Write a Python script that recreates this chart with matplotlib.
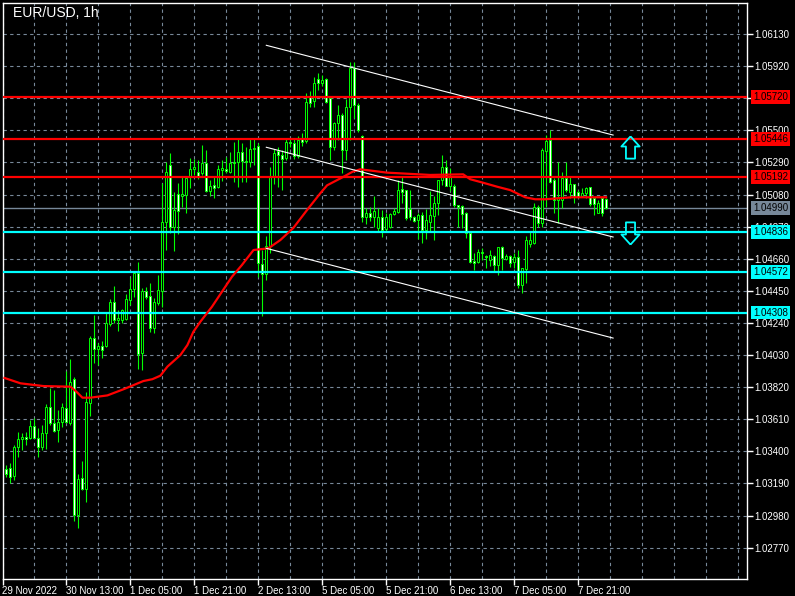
import numpy as np
import matplotlib
matplotlib.use('Agg')
import matplotlib.pyplot as plt
from matplotlib.path import Path

plt.rcParams['font.family'] = ['Liberation Sans', 'DejaVu Sans']

# hourly EUR/USD candles, index 0 = 29 Nov 22:00
opens = [1.03283, 1.03289, 1.03241, 1.03431, 1.03479, 1.03492, 1.03485, 1.03566, 1.03485, 1.03426,
         1.03518, 1.03688, 1.03583, 1.03540, 1.03594, 1.03682, 1.03583, 1.03871, 1.02984, 1.03224,
         1.03152, 1.03714, 1.04139, 1.04067, 1.04091, 1.04089, 1.04233, 1.04379, 1.04259, 1.04259,
         1.04264, 1.04390, 1.04460, 1.04564, 1.04046, 1.04451, 1.04416, 1.04205, 1.04368, 1.04451,
         1.04898, 1.05273, 1.04870, 1.05083, 1.05070, 1.05077, 1.05201, 1.05245, 1.05229, 1.05218,
         1.05284, 1.05105, 1.05142, 1.05127, 1.05240, 1.05245, 1.05229, 1.05295, 1.05295, 1.05356,
         1.05301, 1.05295, 1.05375, 1.05397, 1.04625, 1.04560, 1.04740, 1.05201, 1.05367, 1.05339,
         1.05317, 1.05426, 1.05415, 1.05330, 1.05443, 1.05433, 1.05716, 1.05690, 1.05834, 1.05808,
         1.05834, 1.05709, 1.05393, 1.05546, 1.05600, 1.05372, 1.05655, 1.05906, 1.05666, 1.05460,
         1.04935, 1.04961, 1.04935, 1.04860, 1.04931, 1.04853, 1.04866, 1.04953, 1.04968, 1.05114,
         1.05110, 1.04984, 1.04931, 1.04914, 1.04946, 1.04848, 1.04903, 1.04940, 1.05023, 1.05175,
         1.05262, 1.05136, 1.05136, 1.05012, 1.05005, 1.04957, 1.04827, 1.04648, 1.04641, 1.04707,
         1.04680, 1.04652, 1.04678, 1.04620, 1.04735, 1.04660, 1.04678, 1.04641, 1.04674, 1.04488,
         1.04591, 1.04756, 1.04761, 1.05001, 1.04896, 1.05367, 1.05437, 1.05175, 1.05044, 1.05044,
         1.05186, 1.05099, 1.05149, 1.05099, 1.05070, 1.05092, 1.05127, 1.05055, 1.04961, 1.05055,
         1.05048]
highs = [1.03311, 1.03322, 1.03442, 1.03529, 1.03522, 1.03529, 1.03605, 1.03616, 1.03551, 1.03572,
         1.03710, 1.03812, 1.03801, 1.03671, 1.03714, 1.03928, 1.04004, 1.03889, 1.03252, 1.03337,
         1.03790, 1.04155, 1.04292, 1.04107, 1.04124, 1.04303, 1.04394, 1.04482, 1.04325, 1.04329,
         1.04429, 1.04532, 1.04570, 1.04641, 1.04466, 1.04473, 1.04499, 1.04401, 1.04553, 1.05153,
         1.05295, 1.05349, 1.05099, 1.05153, 1.05197, 1.05197, 1.05317, 1.05310, 1.05306, 1.05404,
         1.05371, 1.05175, 1.05197, 1.05273, 1.05306, 1.05327, 1.05360, 1.05425, 1.05448, 1.05414,
         1.05393, 1.05447, 1.05447, 1.05414, 1.04720, 1.04810, 1.05262, 1.05380, 1.05393, 1.05370,
         1.05441, 1.05450, 1.05440, 1.05460, 1.05480, 1.05742, 1.05760, 1.05847, 1.05873, 1.05860,
         1.05840, 1.05709, 1.05555, 1.05666, 1.05610, 1.05703, 1.05949, 1.05949, 1.05680, 1.05470,
         1.04990, 1.05000, 1.05070, 1.04990, 1.04979, 1.04962, 1.04957, 1.04990, 1.05175, 1.05202,
         1.05110, 1.05110, 1.04940, 1.04962, 1.04968, 1.04984, 1.05106, 1.05071, 1.05175, 1.05339,
         1.05306, 1.05252, 1.05150, 1.05012, 1.05012, 1.04968, 1.04827, 1.04696, 1.04722, 1.04729,
         1.04685, 1.04718, 1.04685, 1.04739, 1.04743, 1.04690, 1.04687, 1.04700, 1.04717, 1.04600,
         1.04809, 1.04837, 1.05023, 1.05012, 1.05382, 1.05469, 1.05502, 1.05186, 1.05295, 1.05229,
         1.05295, 1.05197, 1.05149, 1.05110, 1.05121, 1.05131, 1.05131, 1.05055, 1.05044, 1.05055,
         1.05060]
lows = [1.03235, 1.03191, 1.03213, 1.03365, 1.03409, 1.03442, 1.03480, 1.03485, 1.03361, 1.03409,
        1.03413, 1.03572, 1.03529, 1.03463, 1.03562, 1.03583, 1.03572, 1.02947, 1.02901, 1.03147,
        1.03071, 1.03634, 1.03976, 1.03965, 1.04008, 1.04085, 1.04220, 1.04237, 1.04189, 1.04237,
        1.04259, 1.04357, 1.04412, 1.03939, 1.03932, 1.04394, 1.04183, 1.04176, 1.04357, 1.04346,
        1.04717, 1.04826, 1.04712, 1.04822, 1.05001, 1.04961, 1.05120, 1.05208, 1.05179, 1.05208,
        1.05099, 1.05070, 1.05055, 1.05120, 1.05170, 1.05218, 1.05218, 1.05164, 1.05131, 1.05164,
        1.05164, 1.05262, 1.05273, 1.04543, 1.04285, 1.04520, 1.04700, 1.05150, 1.05132, 1.05110,
        1.05306, 1.05390, 1.05310, 1.05320, 1.05400, 1.05415, 1.05650, 1.05655, 1.05764, 1.05790,
        1.05680, 1.05306, 1.05372, 1.05437, 1.05219, 1.05306, 1.05437, 1.05579, 1.05491, 1.04903,
        1.04890, 1.04910, 1.04870, 1.04840, 1.04805, 1.04840, 1.04859, 1.04946, 1.04957, 1.05023,
        1.04914, 1.04914, 1.04903, 1.04787, 1.04761, 1.04787, 1.04838, 1.04783, 1.04946, 1.05143,
        1.05136, 1.05100, 1.05001, 1.04866, 1.04859, 1.04794, 1.04635, 1.04583, 1.04630, 1.04652,
        1.04598, 1.04613, 1.04576, 1.04554, 1.04587, 1.04650, 1.04608, 1.04600, 1.04466, 1.04434,
        1.04499, 1.04739, 1.04756, 1.04870, 1.04865, 1.05001, 1.05153, 1.04957, 1.04896, 1.04990,
        1.05099, 1.05055, 1.05023, 1.05055, 1.05062, 1.05057, 1.05007, 1.04948, 1.04957, 1.04941,
        1.04985]
closes = [1.03252, 1.03235, 1.03431, 1.03479, 1.03492, 1.03483, 1.03566, 1.03490, 1.03426, 1.03518,
          1.03688, 1.03583, 1.03535, 1.03590, 1.03688, 1.03594, 1.03852, 1.02984, 1.03217, 1.03152,
          1.03725, 1.04139, 1.04070, 1.04089, 1.04063, 1.04242, 1.04379, 1.04259, 1.04270, 1.04325,
          1.04394, 1.04460, 1.04564, 1.04037, 1.04451, 1.04412, 1.04205, 1.04379, 1.04455, 1.04898,
          1.05225, 1.04870, 1.04979, 1.04974, 1.05083, 1.05186, 1.05245, 1.05258, 1.05197, 1.05284,
          1.05105, 1.05136, 1.05120, 1.05245, 1.05251, 1.05236, 1.05284, 1.05284, 1.05356, 1.05301,
          1.05295, 1.05375, 1.05382, 1.04630, 1.04560, 1.04740, 1.05201, 1.05350, 1.05339, 1.05310,
          1.05426, 1.05415, 1.05330, 1.05435, 1.05426, 1.05688, 1.05681, 1.05808, 1.05808, 1.05830,
          1.05688, 1.05393, 1.05550, 1.05600, 1.05372, 1.05655, 1.05906, 1.05666, 1.05502, 1.04935,
          1.04961, 1.04935, 1.04970, 1.04930, 1.04848, 1.04931, 1.04953, 1.04975, 1.05110, 1.05099,
          1.04925, 1.04931, 1.04909, 1.04946, 1.04848, 1.04914, 1.04946, 1.05023, 1.05175, 1.05262,
          1.05136, 1.05202, 1.05012, 1.05001, 1.04953, 1.04827, 1.04641, 1.04635, 1.04707, 1.04700,
          1.04670, 1.04685, 1.04620, 1.04735, 1.04663, 1.04680, 1.04634, 1.04674, 1.04488, 1.04597,
          1.04783, 1.04783, 1.05001, 1.04896, 1.05371, 1.05432, 1.05164, 1.05044, 1.05066, 1.05186,
          1.05110, 1.05149, 1.05066, 1.05062, 1.05092, 1.05121, 1.05018, 1.05018, 1.05023, 1.04957,
          1.04990]

# moving average
ma_idx = [-0.5, 3.5, 9.25, 16, 17.5, 19, 21, 25.25, 29.25, 34.25, 36.5, 38.5, 40.25, 43.5, 45.25,
          46.75, 48.5, 51.4, 53.9, 56.4, 58.9, 61.8, 65.5, 68.5, 71.75, 75.2, 78.5, 80.2, 84.3,
          86.5, 88.5, 95.2, 106, 114.25, 116, 119.25, 122.75, 126, 129.75, 132.25, 134.75,
          141.4, 150]
ma_val = [1.03880, 1.03845, 1.03827, 1.03823, 1.03790, 1.03751, 1.03751, 1.03766, 1.03806,
          1.03860, 1.03872, 1.03895, 1.03954, 1.04030, 1.04095, 1.04182, 1.04248, 1.04346,
          1.04444, 1.04542, 1.04619, 1.04717, 1.04728, 1.04782, 1.04861, 1.04979, 1.05088,
          1.05140, 1.05196, 1.05228, 1.05245, 1.05223, 1.05208, 1.05212, 1.05180, 1.05157,
          1.05131, 1.05109, 1.05062, 1.05049, 1.05049, 1.05062, 1.05062]

red_levels = [1.05720, 1.05446, 1.05192]
cyan_levels = [1.04836, 1.04572, 1.04308]
last_price = 1.04990

chan_idx = [65, 151.75]
chan_top = [1.06056, 1.05469]
chan_mid = [1.05389, 1.04802]
chan_bot = [1.04728, 1.04141]

arrow_idx = 156
arrow_up = 1.05391
arrow_down = 1.04831

price_ticks = [1.02770, 1.02980, 1.03190, 1.03400, 1.03610, 1.03820, 1.04030, 1.04240, 1.04450,
               1.04660, 1.04870, 1.05080, 1.05290, 1.05500, 1.05710, 1.05920, 1.06130]
time_idx = [-1, 15, 31, 47, 63, 79, 95, 111, 127, 143]
time_labels = ['29 Nov 2022', '30 Nov 13:00', '1 Dec 05:00', '1 Dec 21:00', '2 Dec 13:00',
               '5 Dec 05:00', '5 Dec 21:00', '6 Dec 13:00', '7 Dec 05:00', '7 Dec 21:00']

o = np.array(opens)
h = np.array(highs)
l = np.array(lows)
c = np.array(closes)
idx = np.arange(len(o))

fig = plt.figure(figsize=(7.95, 5.96), dpi=100, facecolor='black')
ax = fig.add_axes([2.5/795, 17/596, 744.5/795, 576.5/596])
ax.set_facecolor('black')

grid_kw = dict(color='#778899', lw=0.8, linestyle=(0, (3, 3)))
ax.set_xticks(time_idx)
ax.set_xticklabels(time_labels)
ax.set_xticks(np.arange(-1, 186, 8), minor=True)
ax.set_yticks(price_ticks)
# the 1.05710 label sits fully under the 1.05720 tag in the original
ax.set_yticklabels(['' if abs(p - 1.05710) < 1e-6 else '%.5f' % p for p in price_ticks])
ax.grid(which='both', axis='x', **grid_kw)
ax.grid(which='major', axis='y', **grid_kw)
ax.set_axisbelow(True)

# candles
ax.vlines(idx, l, h, color='#00ff00', lw=0.8, zorder=2)
up = c >= o
ax.bar(idx[up], (c - o)[up], bottom=o[up], width=0.5, color='black',
       edgecolor='#00ff00', linewidth=0.7, zorder=3)
ax.bar(idx[~up], (c - o)[~up], bottom=o[~up], width=0.5, color='white',
       edgecolor='#00ff00', linewidth=0.7, zorder=3)

for lv in red_levels:
    ax.axhline(lv, color='#ff0000', lw=1.6, zorder=4)
for lv in cyan_levels:
    ax.axhline(lv, color='#00ffff', lw=1.6, zorder=4)
ax.axhline(last_price, color='#778899', lw=1.0, zorder=1.5)

ax.plot(ma_idx, ma_val, color='#ff0000', lw=1.6, zorder=5)
for ys in (chan_top, chan_mid, chan_bot):
    ax.plot(chan_idx, ys, color='white', lw=0.8, zorder=5)

up_arrow = Path([(0, 1), (0.82, 0.09), (0.41, 0.09), (0.41, -1), (-0.41, -1),
                 (-0.41, 0.09), (-0.82, 0.09), (0, 1)])
down_arrow = Path([(0, -1), (0.82, -0.09), (0.41, -0.09), (0.41, 1), (-0.41, 1),
                   (-0.41, -0.09), (-0.82, -0.09), (0, -1)])
ax.plot([arrow_idx], [arrow_up], marker=up_arrow, ms=16, mfc='none', mec='#00ffff', mew=1.3, zorder=6)
ax.plot([arrow_idx], [arrow_down], marker=down_arrow, ms=16, mfc='none', mec='#00ffff', mew=1.3, zorder=6)

ax.set_xlim(-1.0, 185.25)
ax.set_ylim(1.02565, 1.06336)

for s in ax.spines.values():
    s.set_color('white')
    s.set_linewidth(1)
ax.yaxis.tick_right()
ax.tick_params(axis='y', colors='white', labelsize=7, length=4, width=1, pad=1.5)
ax.tick_params(axis='x', which='major', colors='white', labelsize=7, length=4, width=1, pad=1)
ax.tick_params(axis='x', which='minor', length=0)
for lab in ax.get_xticklabels():
    lab.set_ha('left')

# price tags on the right
ytr = ax.get_yaxis_transform()
tags = [(lv, '#ff0000') for lv in red_levels] + [(lv, '#00ffff') for lv in cyan_levels] + [(last_price, '#778899')]
for lv, col in tags:
    ax.text(1.0085, lv, '%.5f' % lv, transform=ytr, color='black', fontsize=7, va='center', ha='left',
            bbox=dict(boxstyle='square,pad=0.2', fc=col, ec='none'), clip_on=False, zorder=10)

fig.text(13/795, 1 - 6/596, 'EUR/USD, 1h', color='white', fontsize=10, va='top', ha='left')

fig.savefig('out.png', dpi=100, facecolor='black')
